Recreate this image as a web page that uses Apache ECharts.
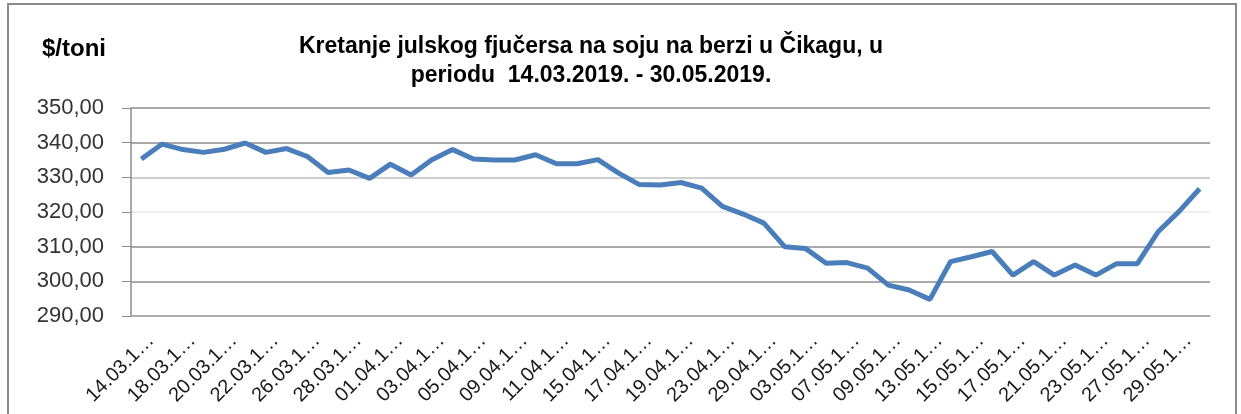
<!DOCTYPE html>
<html>
<head>
<meta charset="utf-8">
<title>Kretanje julskog fjučersa na soju</title>
<script src="https://cdn.jsdelivr.net/npm/echarts@6/dist/echarts.min.js"></script>
<style>
    html, body { margin: 0; padding: 0; background: #fff; }
    #chart { width: 1241px; height: 414px; }
</style>
</head>
<body>
<div id="chart"></div>
<script>
// datumi trgovanja (svaki drugi se vidi na osi)
var dates = [
    '14.03.19.', '15.03.19.', '18.03.19.', '19.03.19.', '20.03.19.', '21.03.19.',
    '22.03.19.', '25.03.19.', '26.03.19.', '27.03.19.', '28.03.19.', '29.03.19.',
    '01.04.19.', '02.04.19.', '03.04.19.', '04.04.19.', '05.04.19.', '08.04.19.',
    '09.04.19.', '10.04.19.', '11.04.19.', '12.04.19.', '15.04.19.', '16.04.19.',
    '17.04.19.', '18.04.19.', '19.04.19.', '22.04.19.', '23.04.19.', '26.04.19.',
    '29.04.19.', '02.05.19.', '03.05.19.', '06.05.19.', '07.05.19.', '08.05.19.',
    '09.05.19.', '10.05.19.', '13.05.19.', '14.05.19.', '15.05.19.', '16.05.19.',
    '17.05.19.', '20.05.19.', '21.05.19.', '22.05.19.', '23.05.19.', '24.05.19.',
    '27.05.19.', '28.05.19.', '29.05.19.', '30.05.19.'
];

// cijena u $/toni
var prices = [
    335.3, 339.6, 338.0, 337.2, 338.1, 339.9, 337.2, 338.3, 336.0, 331.4,
    332.1, 329.7, 333.8, 330.7, 335.1, 338.0, 335.3, 335.0, 335.0, 336.5,
    333.9, 333.9, 335.1, 331.2, 327.9, 327.8, 328.5, 326.9, 321.6, 319.4,
    316.8, 310.0, 309.5, 305.2, 305.4, 303.8, 298.9, 297.5, 294.8, 305.7,
    307.1, 308.6, 301.8, 305.7, 301.8, 304.7, 301.8, 305.1, 305.1, 314.3,
    320.1, 326.7
];

var titleLines = [
    'Kretanje julskog fjučersa na soju na berzi u Čikagu, u',
    'periodu  14.03.2019. - 30.05.2019.'
];
var unitLabel = '$/toni';

var font = "'Liberation Sans', Arial, sans-serif";

var myChart = echarts.init(document.getElementById('chart'), null, { renderer: 'canvas' });

var option = {
    backgroundColor: '#fff',
    animation: false,
    title: {
        text: titleLines.join('\n'),
        left: 586,
        top: 27,
        textAlign: 'center',
        textStyle: {
            fontFamily: font,
            fontSize: 23,
            fontWeight: 'bold',
            color: '#000',
            lineHeight: 29
        }
    },
    graphic: [
        {
            type: 'rect',
            shape: { x: 8, y: 4, width: 1228, height: 430 },
            style: { fill: 'none', stroke: '#8a8a8a', lineWidth: 2 },
            silent: true
        },
        {
            type: 'text',
            left: 42,
            top: 37,
            style: {
                text: unitLabel,
                fontFamily: font,
                fontSize: 24,
                fontWeight: 'bold',
                fill: '#000'
            }
        }
    ],
    grid: {
        left: 131,
        right: 31,
        top: 108,
        bottom: 98
    },
    xAxis: {
        type: 'category',
        data: dates,
        boundaryGap: true,
        axisLine: { lineStyle: { color: '#a6a6a6', width: 1.5 } },
        axisTick: { show: false },
        axisLabel: {
            interval: 1,
            rotate: 45,
            margin: 12,
            verticalAlign: 'top',
            lineHeight: 27,
            showMinLabel: true,
            fontFamily: font,
            fontSize: 20,
            color: '#1a1a1a',
            formatter: function (v) {
                return v.slice(0, 7) + '…';
            }
        },
        splitLine: { show: false }
    },
    yAxis: {
        type: 'value',
        min: 290,
        max: 350,
        interval: 10,
        axisLine: { show: true, lineStyle: { color: '#8c8c8c', width: 1.5 } },
        axisTick: { show: true, length: 9, lineStyle: { color: '#8c8c8c' } },
        axisLabel: {
            margin: 27,
            fontFamily: font,
            fontSize: 22,
            color: '#333',
            formatter: function (v) {
                return v.toFixed(2).replace('.', ',');
            }
        },
        splitLine: {
            lineStyle: {
                color: ['#a6a6a6', '#8c8c8c', '#8c8c8c', '#e8e8e8', '#bfbfbf', '#8c8c8c', '#8c8c8c'],
                width: 1.5
            }
        }
    },
    series: [
        {
            type: 'line',
            data: prices,
            showSymbol: false,
            symbol: 'none',
            smooth: false,
            lineStyle: { color: '#4a7ebb', width: 5 },
            itemStyle: { color: '#4a7ebb' }
        }
    ]
};

myChart.setOption(option);
</script>
</body>
</html>
